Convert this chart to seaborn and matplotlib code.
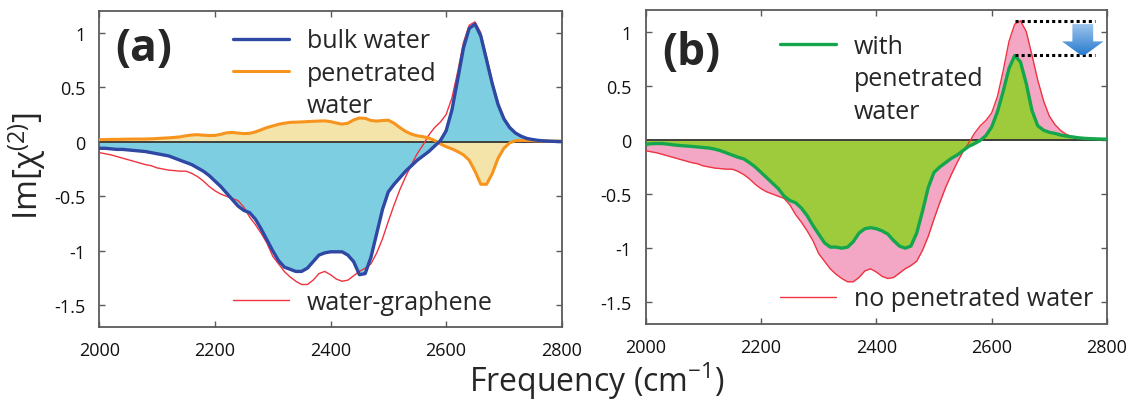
import numpy as np
import pandas as pd
import matplotlib
matplotlib.use("Agg")
import matplotlib.pyplot as plt
import seaborn as sns
from matplotlib.lines import Line2D
from matplotlib.patches import FancyArrow

# frequency grid (cm-1) and curves
freq = list(range(2000, 2801, 10))

bulk_water = [
    -0.06, -0.06, -0.065, -0.07, -0.07, -0.075, -0.08, -0.085, -0.09, -0.10,
    -0.11, -0.12, -0.13, -0.15, -0.17, -0.19, -0.21, -0.24, -0.27, -0.31,
    -0.36, -0.41, -0.47, -0.53, -0.59, -0.63, -0.65, -0.71, -0.80, -0.90,
    -1.00, -1.09, -1.15, -1.17, -1.19, -1.19, -1.16, -1.10, -1.04, -1.02,
    -1.01, -1.01, -1.01, -1.04, -1.10, -1.22, -1.21, -1.06, -0.84, -0.62,
    -0.46, -0.39, -0.33, -0.27, -0.22, -0.17, -0.13, -0.09, -0.04, 0.01,
    0.10, 0.29, 0.57, 0.86, 1.04, 1.08, 0.97, 0.75, 0.53, 0.34,
    0.21, 0.13, 0.08, 0.05, 0.03, 0.02, 0.012, 0.008, 0.005, 0.003, 0.002,
]

penetrated_water = [
    0.02, 0.02, 0.022, 0.022, 0.023, 0.024, 0.025, 0.025, 0.025, 0.027,
    0.03, 0.033, 0.036, 0.04, 0.045, 0.055, 0.062, 0.065, 0.06, 0.057,
    0.058, 0.068, 0.082, 0.085, 0.08, 0.075, 0.077, 0.09, 0.11, 0.13,
    0.145, 0.16, 0.17, 0.178, 0.18, 0.182, 0.185, 0.188, 0.19, 0.192,
    0.185, 0.172, 0.162, 0.17, 0.20, 0.218, 0.215, 0.195, 0.19, 0.195,
    0.198, 0.17, 0.13, 0.095, 0.07, 0.055, 0.047, 0.035, 0.012, -0.02,
    -0.045, -0.065, -0.09, -0.12, -0.17, -0.27, -0.39, -0.39, -0.29, -0.15,
    -0.06, -0.01, 0.01, 0.012, 0.012, 0.01, 0.008, 0.007, 0.006, 0.005, 0.005,
]

water_graphene = [
    -0.10, -0.11, -0.12, -0.135, -0.15, -0.165, -0.18, -0.195, -0.21, -0.22,
    -0.24, -0.25, -0.26, -0.265, -0.27, -0.27, -0.29, -0.32, -0.36, -0.41,
    -0.45, -0.48, -0.50, -0.52, -0.54, -0.60, -0.69, -0.76, -0.84, -0.93,
    -1.05, -1.12, -1.19, -1.24, -1.28, -1.31, -1.31, -1.27, -1.21, -1.19,
    -1.22, -1.26, -1.28, -1.27, -1.23, -1.19, -1.16, -1.12, -1.02, -0.89,
    -0.73, -0.58, -0.44, -0.32, -0.21, -0.11, -0.03, 0.06, 0.13, 0.18,
    0.25, 0.40, 0.64, 0.91, 1.07, 1.10, 1.00, 0.78, 0.55, 0.36,
    0.22, 0.14, 0.085, 0.05, 0.03, 0.02, 0.012, 0.008, 0.005, 0.003, 0.002,
]

with_penetrated = [
    -0.04, -0.035, -0.033, -0.034, -0.04, -0.047, -0.052, -0.056, -0.06, -0.065,
    -0.07, -0.075, -0.085, -0.10, -0.12, -0.14, -0.16, -0.175, -0.21, -0.25,
    -0.30, -0.35, -0.40, -0.45, -0.52, -0.56, -0.58, -0.63, -0.70, -0.79,
    -0.87, -0.95, -0.99, -0.99, -1.00, -0.99, -0.94, -0.86, -0.82, -0.81,
    -0.82, -0.84, -0.87, -0.93, -0.98, -1.00, -0.98, -0.86, -0.66, -0.44,
    -0.30, -0.25, -0.21, -0.17, -0.14, -0.10, -0.06, -0.035, -0.005, 0.04,
    0.12, 0.26, 0.45, 0.66, 0.78, 0.72, 0.52, 0.27, 0.13, 0.09,
    0.07, 0.06, 0.045, 0.035, 0.028, 0.02, 0.015, 0.012, 0.01, 0.008, 0.007,
]

x_ticks = [2000, 2200, 2400, 2600, 2800]
y_ticks = [1, 0.5, 0, -0.5, -1, -1.5]

df = pd.DataFrame({
    "freq": freq,
    "bulk": bulk_water,
    "pen": penetrated_water,
    "wg": water_graphene,
    "with": with_penetrated,
})

sns.set_theme(style="white")
plt.rcParams["font.family"] = ["Open Sans", "DejaVu Sans"]
plt.rcParams["mathtext.fontset"] = "custom"
plt.rcParams["mathtext.rm"] = "Open Sans"
plt.rcParams["mathtext.it"] = "Open Sans:italic"
plt.rcParams["axes.unicode_minus"] = False

BLUE = "#2e48a3"
CYAN = "#7dcee0"
ORANGE = "#f7941d"
TAN = "#f5e4aa"
RED = "#ef3340"
PINK = "#f3a7c5"
GREEN = "#14a64c"
LIME = "#9dcb3b"
SPINE = "#5a5a5a"

fig = plt.figure(figsize=(11.32, 4.06), dpi=100)
W, H = 1132, 406
ax_a = fig.add_axes([99.3 / W, (H - 328) / H, 462.4 / W, 316 / H])
ax_b = fig.add_axes([645.7 / W, (H - 325) / H, 461.3 / W, 314 / H])


def style_axes(ax):
    ax.set_xlim(2000, 2800)
    ax.set_ylim(-1.7, 1.2)
    ax.set_xticks(x_ticks)
    ax.set_yticks(y_ticks)
    ax.set_yticklabels(["1", "0.5", "0", "-0.5", "-1", "-1.5"])
    ax.tick_params(direction="in", length=4, width=1, color=SPINE,
                   top=True, right=True, bottom=True, left=True,
                   labelsize=13, pad=10, labelcolor="#111111")
    for s in ax.spines.values():
        s.set_color(SPINE)
        s.set_linewidth(1.3)
    ax.set_xlabel("")
    ax.set_ylabel("")


# ---- panel (a)
ax = ax_a
ax.fill_between(df["freq"], df["bulk"], 0, color=CYAN, lw=0, zorder=1)
ax.fill_between(df["freq"], df["pen"], 0, color=TAN, lw=0, zorder=1)
ax.axhline(0, color="#333333", lw=1.3, zorder=2)
sns.lineplot(data=df, x="freq", y="wg", ax=ax, color=RED, lw=1.0, zorder=3, legend=False)
sns.lineplot(data=df, x="freq", y="pen", ax=ax, color=ORANGE, lw=2.2, zorder=4, legend=False)
sns.lineplot(data=df, x="freq", y="bulk", ax=ax, color=BLUE, lw=2.4, zorder=5, legend=False)
style_axes(ax)

blank = Line2D([], [], lw=0)
leg_kw = dict(frameon=False, fontsize=18, handlelength=2.25, handletextpad=0.72,
              borderpad=0, borderaxespad=0, labelspacing=0.3, loc="upper left")
h_blue = Line2D([], [], color=BLUE, lw=2.4)
h_orange = Line2D([], [], color=ORANGE, lw=2.2)
h_red = Line2D([], [], color=RED, lw=1.0)
l1 = ax.legend([h_blue, h_orange, blank], ["bulk water", "penetrated", "water"],
               bbox_to_anchor=(0.289, 0.945), **leg_kw)
ax.add_artist(l1)
ax.legend([h_red], ["water-graphene"], bbox_to_anchor=(0.289, 0.117), **leg_kw)
ax.text(0.034, 0.88, "(a)", transform=ax.transAxes, fontsize=32,
        fontweight="bold", ha="left", va="center")

# ---- panel (b)
ax = ax_b
ax.fill_between(df["freq"], df["wg"], 0, color=PINK, lw=0, zorder=1)
ax.fill_between(df["freq"], df["with"], 0, color=LIME, lw=0, zorder=1.5)
ax.axhline(0, color="#333333", lw=1.3, zorder=2)
sns.lineplot(data=df, x="freq", y="wg", ax=ax, color=RED, lw=1.0, zorder=3, legend=False)
sns.lineplot(data=df, x="freq", y="with", ax=ax, color=GREEN, lw=2.4, zorder=4, legend=False)
style_axes(ax)

h_green = Line2D([], [], color=GREEN, lw=2.4)
l2 = ax.legend([h_green, blank, blank], ["with", "penetrated", "water"],
               bbox_to_anchor=(0.291, 0.925), **leg_kw)
ax.add_artist(l2)
ax.legend([h_red], ["no penetrated water"], bbox_to_anchor=(0.291, 0.12), **leg_kw)
ax.text(0.035, 0.866, "(b)", transform=ax.transAxes, fontsize=32,
        fontweight="bold", ha="left", va="center")

# peak reduction marker
top_peak = max(water_graphene)
low_peak = max(with_penetrated)
ax.hlines([top_peak, low_peak], 2640, 2780, colors="black", lw=2.2,
          linestyles=[(0, (1, 1))], zorder=6)
arrow = FancyArrow(2758, top_peak - 0.03, 0, -(top_peak - low_peak - 0.02),
                   width=36, head_width=72, head_length=0.14,
                   length_includes_head=True, lw=0, color="none", zorder=6)
ax.add_patch(arrow)
grad = np.linspace(0, 1, 64).reshape(-1, 1)
cmap = matplotlib.colors.LinearSegmentedColormap.from_list("arr", ["#aacdef", "#2a7ccf"])
im = ax.imshow(grad, extent=(2720, 2796, low_peak, top_peak), origin="upper",
               aspect="auto", cmap=cmap, zorder=6)
im.set_clip_path(arrow)
ax.set_xlim(2000, 2800)
ax.set_ylim(-1.7, 1.2)

fig.text(0.024, 0.59, "Im[χ$^{(2)}$]", rotation=90, fontsize=24,
         ha="center", va="center")
fig.text(0.527, 0.034, "Frequency (cm$^{\\mathrm{-1}}$)", fontsize=23,
         ha="center", va="baseline")

fig.savefig("out.png", dpi=100)
